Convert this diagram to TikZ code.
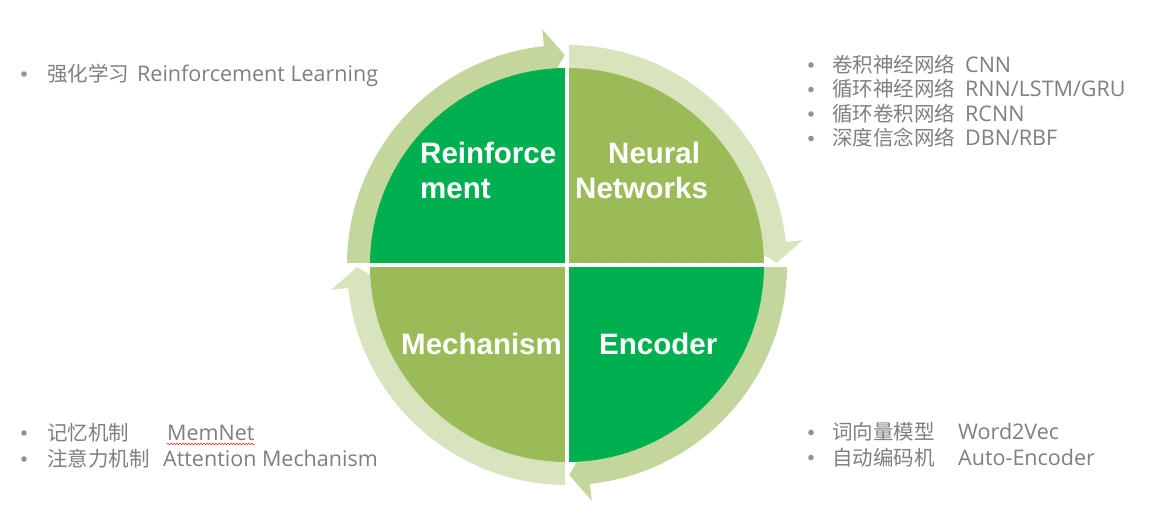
\documentclass[tikz,border=0pt]{standalone}
\usepackage{fontspec}
\setmainfont{Open Sans}
\newfontfamily\cjk{Noto Sans CJK SC}
\newfontfamily\arialf{Liberation Sans}
\usetikzlibrary{decorations.pathmorphing}
\definecolor{gbright}{HTML}{00B050}
\definecolor{golive}{HTML}{9BBB59}
\definecolor{ringmed}{HTML}{C3D69B}
\definecolor{ringlight}{HTML}{D7E4BD}
\definecolor{txtgray}{HTML}{7F7F7F}
\tikzset{
  pielabel/.style={inner sep=0pt, anchor=base west, text=white,
    font={\arialf\bfseries\fontsize{29.5}{35}\selectfont}},
  sidecjk/.style={inner sep=0pt, anchor=base west, text=txtgray,
    font={\cjk\fontsize{20.5}{24}\selectfont}},
  sidelat/.style={inner sep=0pt, anchor=base west, text=txtgray,
    font={\fontsize{21.5}{25}\selectfont}},
  bulletdot/.style={fill=txtgray!85},
  divider/.style={white, line width=4pt}
}
\begin{document}
\begin{tikzpicture}[x=1pt,y=1pt]
\useasboundingbox (0,0) rectangle (1149,-526);
\fill[white] (0,0) rectangle (1149,-526);

\begin{scope}[shift={(567,-265)}]
  % ring arrows (clockwise)
  \fill[ringmed] (180:196) arc[start angle=180,end angle=96,radius=196]
     -- (96:182) -- (90.6:210) -- (96:237) -- (96:220)
     arc[start angle=96,end angle=180,radius=220] -- cycle;
  \fill[ringlight] (90:196) arc[start angle=90,end angle=6,radius=196]
     -- (6:182) -- (0.6:210) -- (6:237) -- (6:220)
     arc[start angle=6,end angle=90,radius=220] -- cycle;
  \fill[ringmed] (0:196) arc[start angle=0,end angle=-84,radius=196]
     -- (-84:182) -- (-89.4:210) -- (-84:237) -- (-84:220)
     arc[start angle=-84,end angle=0,radius=220] -- cycle;
  \fill[ringlight] (-90:196) arc[start angle=-90,end angle=-174,radius=196]
     -- (-174:182) -- (-179.4:210) -- (-174:237) -- (-174:220)
     arc[start angle=-174,end angle=-90,radius=220] -- cycle;
  % pie quadrants
  \fill[gbright] (0,0) -- (90:197) arc[start angle=90,end angle=180,radius=197] -- cycle;
  \fill[golive] (0,0) -- (0:197) arc[start angle=0,end angle=90,radius=197] -- cycle;
  \fill[gbright] (0,0) -- (-90:197) arc[start angle=-90,end angle=0,radius=197] -- cycle;
  \fill[golive] (0,0) -- (180:197) arc[start angle=180,end angle=270,radius=197] -- cycle;
  % dividers
  \draw[divider] (-222,0) -- (222,0);
  \draw[divider] (0,-222) -- (0,222);
\end{scope}

% pie labels
\node[pielabel] (reinf1) at (420,-164) {Reinforce};
\node[pielabel] (reinf2) at (420,-199) {ment};
\node[pielabel] (neural1) at (608,-164) {Neural};
\node[pielabel] (neural2) at (575,-199) {Networks};
\node[pielabel] (mech) at (401,-355) {Mechanism};
\node[pielabel] (enc) at (599,-355) {Encoder};

% top-left list
\fill[bulletdot] (24,-74) circle (2.8);
\node[sidecjk] (tl1c) at (47,-81.5) {强化学习};
\node[sidelat] (tl1e) at (137,-81.5) {Reinforcement Learning};

% top-right list
\fill[bulletdot] (811,-65) circle (2.8);
\fill[bulletdot] (811,-89.5) circle (2.8);
\fill[bulletdot] (811,-114) circle (2.8);
\fill[bulletdot] (811,-138.5) circle (2.8);
\node[sidecjk] (tr1c) at (832,-72.5) {卷积神经网络};
\node[sidelat] (tr1e) at (965,-72.5) {CNN};
\node[sidecjk] (tr2c) at (832,-97) {循环神经网络};
\node[sidelat] (tr2e) at (965,-97) {RNN/LSTM/GRU};
\node[sidecjk] (tr3c) at (832,-121.5) {循环卷积网络};
\node[sidelat] (tr3e) at (965,-121.5) {RCNN};
\node[sidecjk] (tr4c) at (832,-146) {深度信念网络};
\node[sidelat] (tr4e) at (965,-146) {DBN/RBF};

% bottom-left list
\fill[bulletdot] (24,-433) circle (2.8);
\fill[bulletdot] (24,-459) circle (2.8);
\node[sidecjk] (bl1c) at (47,-440.5) {记忆机制};
\node[sidelat] (bl1e) at (167,-440.5) {MemNet};
\draw[red!80, line width=0.6pt, decorate,
  decoration={snake, amplitude=0.8pt, segment length=3pt}]
  ([yshift=-3.5pt]bl1e.base west) -- ([yshift=-3.5pt]bl1e.base east);
\node[sidecjk] (bl2c) at (47,-466.5) {注意力机制};
\node[sidelat] (bl2e) at (163,-466.5) {Attention Mechanism};

% bottom-right list
\fill[bulletdot] (811,-432.5) circle (2.8);
\fill[bulletdot] (811,-457.5) circle (2.8);
\node[sidecjk] (br1c) at (832,-440) {词向量模型};
\node[sidelat] (br1e) at (958,-440) {Word2Vec};
\node[sidecjk] (br2c) at (832,-465) {自动编码机};
\node[sidelat] (br2e) at (958,-465) {Auto-Encoder};
\end{tikzpicture}
\end{document}
